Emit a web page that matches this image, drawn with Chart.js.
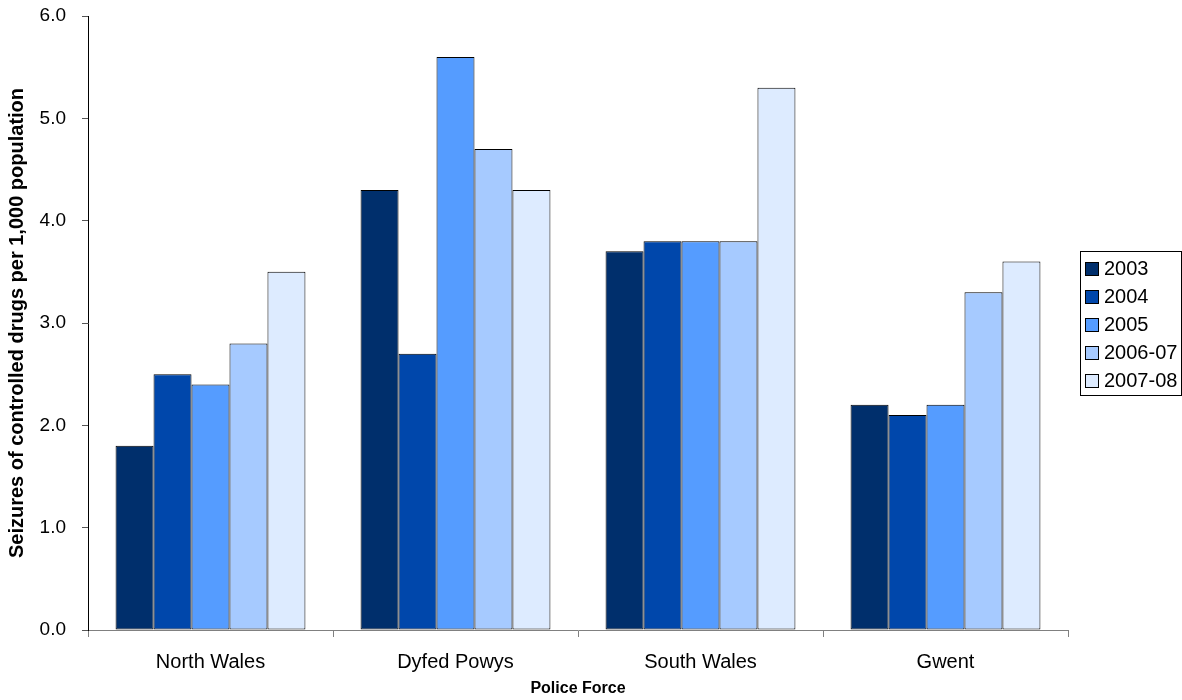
<!DOCTYPE html>
<html><head><meta charset="utf-8">
<script src="https://cdn.jsdelivr.net/npm/chart.js@4"></script>
<style>html,body{margin:0;padding:0;background:#fff;}#wrap{width:1182px;height:700px;position:relative;}</style>
</head><body><div id="wrap"><canvas id="c" width="1182" height="700"></canvas></div>
<script>
const categories = ['North Wales','Dyfed Powys','South Wales','Gwent'];
const seriesLabels = ['2003','2004','2005','2006-07','2007-08'];
const s2003 = [1.8, 4.3, 3.7, 2.2];
const s2004 = [2.5, 2.7, 3.8, 2.1];
const s2005 = [2.4, 5.6, 3.8, 2.2];
const s2006 = [2.8, 4.7, 3.8, 3.3];
const s2007 = [3.5, 4.3, 5.3, 3.6];
const colors = ['#002F6C','#0047AB','#559CFF','#A6CAFF','#DDEBFF'];
const seriesValues = [s2003, s2004, s2005, s2006, s2007];

const FONT = "'Liberation Sans', Arial, sans-serif";

const legendPlugin = {
  id: 'customLegend',
  afterDraw(chart) {
    const ctx = chart.ctx;
    const x0 = 1080.5, y0 = 251.5, w = 101, h = 144;
    ctx.save();
    ctx.fillStyle = '#fff';
    ctx.fillRect(x0, y0, w, h);
    ctx.strokeStyle = '#000';
    ctx.lineWidth = 1;
    ctx.strokeRect(x0, y0, w, h);
    ctx.font = '20px ' + FONT;
    ctx.textBaseline = 'middle';
    chart.data.datasets.forEach((ds, i) => {
      const cy = 268 + i * 28.2;
      const sy = Math.round(cy - 6.5) + 0.5;
      ctx.fillStyle = ds.backgroundColor;
      ctx.fillRect(1085.5, sy, 13, 13);
      ctx.strokeStyle = '#000';
      ctx.strokeRect(1085.5, sy, 13, 13);
      ctx.fillStyle = '#000';
      ctx.fillText(ds.label, 1104, cy + 1);
    });
    ctx.restore();
  }
};

new Chart(document.getElementById('c'), {
  type: 'bar',
  data: {
    labels: categories,
    datasets: seriesLabels.map((l, i) => ({
      label: l,
      data: seriesValues[i],
      backgroundColor: colors[i],
      borderColor: '#000',
      borderWidth: 1,
      borderSkipped: false,
      barPercentage: 1.0,
      categoryPercentage: 0.775
    }))
  },
  options: {
    responsive: false,
    animation: false,
    layout: { padding: { left: 0, right: 114, top: 16, bottom: 0 } },
    plugins: { legend: { display: false }, tooltip: { enabled: false } },
    scales: {
      x: {
        offset: true,
        grid: { offset: true, drawOnChartArea: false, drawTicks: true, tickLength: 7, color: '#808080' },
        border: { display: true, color: '#808080', width: 1 },
        ticks: { color: '#000', font: { family: FONT, size: 20 }, padding: 13, maxRotation: 0 },
        title: { display: true, text: 'Police Force', color: '#000', font: { family: FONT, size: 16, weight: 'bold' }, padding: { top: 4, bottom: 2 } },
        afterFit(scale) { scale.height = 70; scale.paddingLeft = 0; scale.paddingRight = 0; }
      },
      y: {
        min: 0, max: 6,
        ticks: { stepSize: 1, color: '#000', font: { family: FONT, size: 19 }, padding: 16, callback: v => v.toFixed(1) },
        grid: { drawOnChartArea: false, drawTicks: true, tickLength: 6, color: '#555' },
        border: { display: true, color: '#000', width: 1 },
        title: { display: true, text: 'Seizures of controlled drugs per 1,000 population', color: '#000', font: { family: FONT, size: 20, weight: 'bold' }, padding: { top: 5, bottom: 4 } },
        afterFit(scale) { scale.width = 88; scale.paddingTop = 0; scale.paddingBottom = 0; }
      }
    }
  },
  plugins: [legendPlugin]
});
</script></body></html>
